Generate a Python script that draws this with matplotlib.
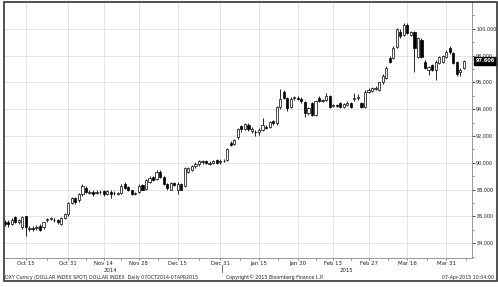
import matplotlib
matplotlib.use("Agg")
import matplotlib.pyplot as plt
from matplotlib.patches import Rectangle
import pandas as pd
import numpy as np

dates = pd.bdate_range("2014-10-07", "2015-04-07")

opens = [85.60, 85.55, 85.45, 85.95, 85.60, 85.20, 86.00, 85.10, 85.15, 85.15,
         85.30, 85.25, 85.75, 85.80, 85.75, 85.70, 85.45, 85.90, 86.15, 87.00,
         87.35, 87.20, 87.65, 88.15, 87.75, 87.85, 87.75, 87.80, 87.90, 87.70,
         87.85, 87.75, 87.70, 87.75, 88.45, 88.20, 87.95, 87.70, 87.80, 88.35,
         88.05, 88.60, 88.95, 88.80, 89.30, 88.95, 88.45, 88.00, 88.50, 88.00,
         88.40, 88.30, 89.35, 89.50, 89.75, 89.90, 90.05, 90.10, 89.95, 90.00,
         90.20, 90.05, 90.15, 90.20, 91.50, 91.40, 91.90, 92.75, 92.55, 92.85,
         92.35, 92.30, 92.30, 92.45, 92.70, 92.70, 93.10, 92.95, 94.15, 95.30,
         94.85, 94.20, 94.85, 94.85, 94.75, 94.55, 93.75, 94.45, 93.60, 94.85,
         94.65, 94.70, 94.95, 94.25, 94.30, 94.45, 94.20, 94.35, 94.45, 94.80,
         94.85, 94.45, 94.20, 95.30, 95.35, 95.50, 95.45, 96.00, 96.35, 97.85,
         97.85, 98.65, 99.75, 99.55, 100.30, 99.55, 99.75, 97.90, 99.20, 97.55,
         96.95, 97.30, 96.95, 97.45, 97.55, 97.90, 98.55, 98.20, 97.50, 96.75,
         97.10]
highs = [85.75, 85.70, 85.90, 86.05, 85.80, 86.05, 86.05, 85.30, 85.30, 85.35,
         85.40, 85.60, 85.85, 85.95, 85.85, 85.80, 85.95, 86.25, 87.05, 87.45,
         87.45, 87.75, 88.40, 88.25, 87.95, 87.95, 87.95, 87.95, 88.00, 88.00,
         87.95, 87.90, 87.85, 88.40, 88.60, 88.30, 88.00, 87.85, 88.40, 88.45,
         88.80, 89.00, 89.05, 89.45, 89.50, 89.00, 88.50, 88.60, 88.60, 88.55,
         88.50, 89.70, 89.70, 89.85, 90.05, 90.20, 90.20, 90.20, 90.10, 90.20,
         90.30, 90.25, 90.25, 91.10, 91.65, 91.80, 92.60, 92.85, 93.00, 92.95,
         92.70, 92.45, 92.60, 93.35, 92.85, 93.15, 93.20, 94.25, 95.50, 95.45,
         94.90, 94.90, 95.00, 94.95, 94.90, 94.65, 94.15, 94.55, 94.70, 94.95,
         94.80, 95.20, 95.05, 94.40, 94.40, 94.55, 94.50, 94.60, 94.55, 95.20,
         95.10, 94.55, 95.45, 95.55, 95.65, 95.70, 96.05, 96.60, 97.20, 97.95,
         98.70, 100.05, 100.00, 100.40, 100.45, 99.85, 99.85, 99.40, 99.30, 97.65,
         97.25, 97.40, 97.65, 98.00, 98.05, 98.40, 98.70, 98.30, 97.60, 97.05,
         97.70]
lows = [85.30, 85.25, 85.35, 85.50, 85.45, 85.10, 84.55, 84.90, 84.95, 85.00,
        84.95, 85.10, 85.60, 85.70, 85.60, 85.45, 85.35, 85.80, 86.05, 86.90,
        86.95, 87.10, 87.55, 87.75, 87.65, 87.55, 87.65, 87.65, 87.55, 87.60,
        87.35, 87.60, 87.60, 87.70, 88.05, 87.90, 87.60, 87.60, 87.75, 87.95,
        87.95, 88.50, 88.65, 88.75, 88.90, 88.35, 88.00, 87.95, 88.30, 87.70,
        87.95, 88.20, 89.25, 89.40, 89.65, 89.80, 89.95, 89.90, 89.85, 89.90,
        89.95, 89.95, 90.05, 90.10, 91.25, 91.30, 91.80, 92.30, 92.45, 92.40,
        92.25, 92.00, 92.10, 92.35, 92.55, 92.60, 92.85, 92.85, 94.05, 94.75,
        93.90, 94.10, 94.70, 94.70, 94.50, 93.40, 93.60, 93.50, 93.50, 94.55,
        94.55, 94.60, 94.10, 94.15, 94.15, 94.10, 94.10, 94.25, 94.10, 94.65,
        94.70, 94.10, 94.10, 95.20, 95.25, 95.40, 95.35, 95.90, 96.25, 97.45,
        97.75, 98.55, 99.35, 99.45, 99.60, 99.45, 96.80, 97.80, 97.80, 97.00,
        96.55, 96.85, 96.20, 97.35, 97.45, 97.80, 98.15, 97.35, 96.50, 96.45,
        97.00]
closes = [85.40, 85.40, 85.75, 85.60, 85.70, 85.95, 85.20, 85.15, 85.10, 85.25,
          85.00, 85.55, 85.80, 85.85, 85.70, 85.55, 85.90, 86.20, 87.00, 87.40,
          87.05, 87.70, 88.30, 87.80, 87.85, 87.65, 87.85, 87.82, 87.65, 87.90,
          87.70, 87.78, 87.75, 88.30, 88.15, 87.95, 87.70, 87.75, 88.30, 88.00,
          88.70, 88.90, 88.75, 89.35, 88.95, 88.40, 88.15, 88.50, 88.35, 88.45,
          88.00, 89.60, 89.60, 89.75, 89.95, 90.10, 90.10, 90.00, 90.00, 90.10,
          90.00, 90.15, 90.10, 91.00, 91.35, 91.70, 92.50, 92.50, 92.90, 92.50,
          92.55, 92.32, 92.45, 92.80, 92.60, 93.05, 92.95, 94.15, 94.80, 94.85,
          94.10, 94.80, 94.90, 94.80, 94.60, 93.75, 94.10, 93.60, 94.60, 94.60,
          94.70, 95.00, 94.20, 94.30, 94.25, 94.20, 94.40, 94.50, 94.20, 94.82,
          94.87, 94.20, 95.30, 95.45, 95.60, 95.60, 96.00, 96.50, 97.10, 97.55,
          98.60, 99.95, 99.45, 100.30, 99.70, 99.75, 98.60, 99.30, 97.90, 97.10,
          97.15, 96.95, 97.55, 97.90, 97.95, 98.30, 98.25, 97.45, 96.60, 96.95,
          97.606]

tick_dates = ["2014-10-15", "2014-10-31", "2014-11-14", "2014-11-28", "2014-12-15",
              "2014-12-31", "2015-01-15", "2015-01-30", "2015-02-13", "2015-02-27",
              "2015-03-16", "2015-03-31"]
tick_labels = ["Oct 15", "Oct 31", "Nov 14", "Nov 28", "Dec 15", "Dec 31",
               "Jan 15", "Jan 30", "Feb 13", "Feb 27", "Mar 16", "Mar 31"]
y_ticks = [84, 86, 88, 90, 92, 94, 96, 98, 100]
last_price = closes[-1]

W, H = 498, 287
fig = plt.figure(figsize=(W / 100, H / 100), dpi=100)
fig.patch.set_facecolor("white")

def px(x0, y0, x1, y1):
    return [x0 / W, 1 - y1 / H, (x1 - x0) / W, (y1 - y0) / H]

ax = fig.add_axes(px(4, 2, 472, 258))
idx = np.arange(len(dates))
o = np.array(opens); c = np.array(closes); h = np.array(highs); l = np.array(lows)

ax.vlines(idx, l, h, color="black", lw=0.6, zorder=3)
up = c >= o
bottoms = np.minimum(o, c)
heights = np.maximum(np.abs(c - o), 0.03)
ax.bar(idx[up], heights[up], bottom=bottoms[up], width=0.62, facecolor="white",
       edgecolor="black", linewidth=0.5, zorder=4)
ax.bar(idx[~up], heights[~up], bottom=bottoms[~up], width=0.62, facecolor="black",
       edgecolor="black", linewidth=0.5, zorder=4)

date_pos = {d.strftime("%Y-%m-%d"): i for i, d in enumerate(dates)}
tpos = [date_pos[d] for d in tick_dates]
ax.set_xlim(-0.2, 132.3)
ax.set_ylim(82.9, 102.0)

ax.set_xticks(tpos)
ax.set_xticklabels(tick_labels, fontsize=3.9, color="#222222")
minor_x = [(tpos[k] + tpos[k + 1]) / 2 for k in range(len(tpos) - 1)] + [tpos[-1] + 5.5]
ax.set_xticks(minor_x, minor=True)
ax.tick_params(axis="x", which="major", length=1.5, width=0.5, pad=0.5, color="#555555")
ax.tick_params(axis="x", which="minor", length=1.5, width=0.5, color="#555555")

ax.yaxis.tick_right()
ax.set_yticks(y_ticks)
ax.set_yticklabels([f"{v:.3f}" for v in y_ticks], fontsize=3.5, color="#222222")
ax.set_yticks(np.arange(83, 102, 1), minor=True)
ax.tick_params(axis="y", which="major", length=2, width=0.6, pad=1.0, color="#333333")
ax.tick_params(axis="y", which="minor", length=1.2, width=0.5, color="#555555")

ax.grid(True, which="major", color="#e0e0e0", lw=0.6, zorder=0)
ax.set_axisbelow(True)
for s in ["left", "top"]:
    ax.spines[s].set_visible(False)
ax.spines["bottom"].set_color("#888888")
ax.spines["bottom"].set_linewidth(0.6)
ax.spines["right"].set_color("#888888")
ax.spines["right"].set_linewidth(0.6)

# last price box
ax.annotate(f"{last_price:.3f}", xy=(1.0, last_price), xycoords=("axes fraction", "data"),
            xytext=(2.5, 0), textcoords="offset points", fontsize=3.6, color="white",
            va="center", ha="left", fontweight="bold",
            bbox=dict(boxstyle="square,pad=0.3", fc="black", ec="black"))

# year labels and separator
fig.text(110 / W, 1 - 270.5 / H, "2014", fontsize=3.9, ha="center", va="center", color="#222222")
fig.text(346 / W, 1 - 270.5 / H, "2015", fontsize=3.9, ha="center", va="center", color="#222222")
sep = (date_pos["2014-12-31"] + date_pos["2015-01-01"]) / 2
ax.plot([sep, sep], [-0.028, -0.055], transform=ax.get_xaxis_transform(), color="#555555",
        lw=0.6, clip_on=False)

# footer
fig.text(5 / W, 1 - 277 / H, "DXY Curncy (DOLLAR INDEX SPOT) DOLLAR INDEX  Daily 07OCT2014-07APR2015",
         fontsize=3.4, ha="left", va="center", color="#222222")
fig.text(275 / W, 1 - 277 / H, "Copyright\u00a9 2015 Bloomberg Finance L.P.",
         fontsize=3.4, ha="center", va="center", color="#222222")
fig.text(494 / W, 1 - 277 / H, "07-Apr-2015 10:04:00",
         fontsize=3.4, ha="right", va="center", color="#222222")

# outer frame
fig.add_artist(Rectangle((3.5 / W, 1 - 280.5 / H), (496.5 - 3.5) / W, (280.5 - 1.5) / H,
                         transform=fig.transFigure, fill=False, ec="#333333", lw=1.2))

fig.savefig("out.png", dpi=100, facecolor="white")
